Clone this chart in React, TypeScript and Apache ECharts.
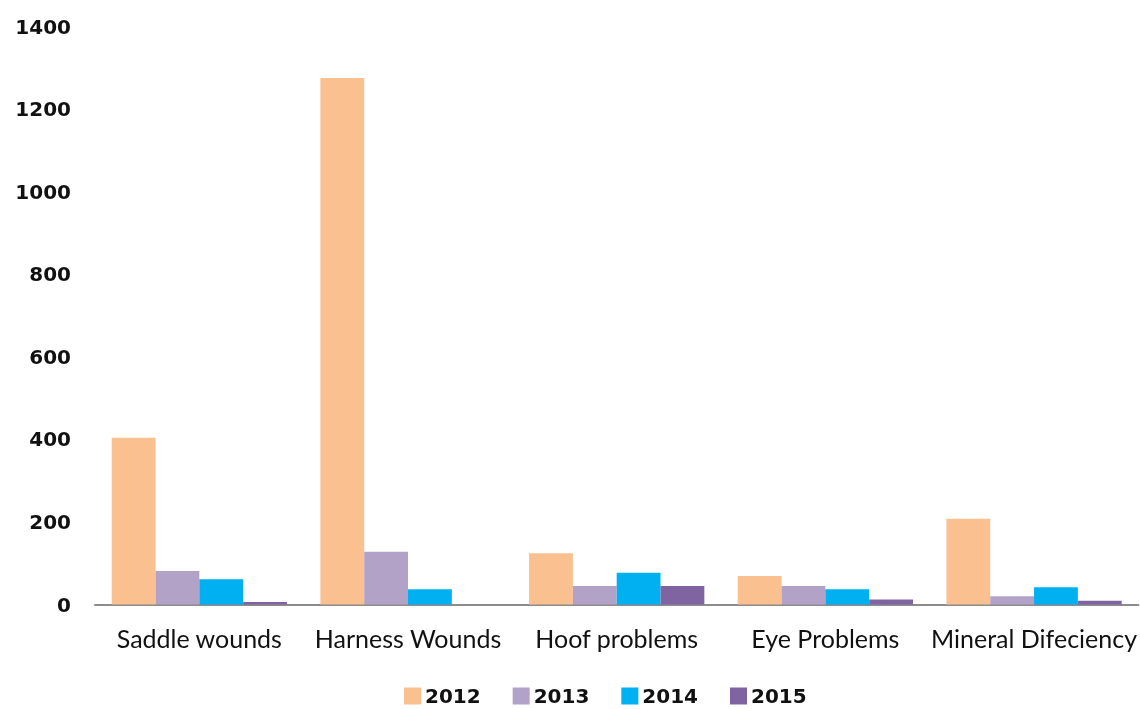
import React, { useEffect, useRef } from "react";
import * as echarts from "echarts";

const categories = ["Saddle wounds", "Harness Wounds", "Hoof problems", "Eye Problems", "Mineral Difeciency"];
const seriesNames = ["2012", "2013", "2014", "2015"];
const values2012 = [404, 1275, 124, 69, 208];
const values2013 = [81, 128, 45, 45, 20];
const values2014 = [61, 37, 77, 37, 42];
const values2015 = [6, 0, 45, 12, 9];
const colors = ["#FAC090", "#B3A2C7", "#00B0F0", "#8064A2"];

export default function App() {
  const ref = useRef<HTMLDivElement>(null);
  useEffect(() => {
    const chart = echarts.init(ref.current!, null, { renderer: "svg" });
    const data = [values2012, values2013, values2014, values2015];
    chart.setOption({
      animation: false,
      color: colors,
      grid: { left: 95, right: 1, top: 26.5, bottom: 104.5, containLabel: false },
      legend: {
        data: seriesNames,
        left: 404,
        top: 686,
        padding: 0,
        itemWidth: 17,
        itemHeight: 17,
        itemGap: 32,
        icon: "rect",
        textStyle: { fontFamily: "DejaVu Sans", fontWeight: "bold", fontSize: 20, lineHeight: 18, color: "#111", padding: [0, 0, 0, -1] },
      },
      xAxis: {
        type: "category",
        data: categories,
        axisLine: { lineStyle: { color: "#8c8c8c", width: 2 } },
        axisTick: { show: false },
        axisLabel: { fontFamily: "Lato", fontSize: 25, color: "#111", margin: 21, interval: 0 },
      },
      yAxis: {
        type: "value",
        min: 0,
        max: 1400,
        interval: 200,
        axisLine: { show: false },
        axisTick: { show: false },
        splitLine: { show: false },
        axisLabel: {
          fontFamily: "DejaVu Sans",
          fontWeight: "bold",
          fontSize: 20,
          color: "#111",
          margin: 24,
          formatter: (v: number) => String(v),
        },
      },
      series: seriesNames.map((name, i) => ({
        name,
        type: "bar",
        data: data[i],
        barGap: "0%",
        barCategoryGap: "16%",
        itemStyle: { color: colors[i] },
      })),
    });
    return () => chart.dispose();
  }, []);
  return <div ref={ref} style={{ position: "fixed", left: 0, top: 0, width: 1140, height: 709 }} />;
}
